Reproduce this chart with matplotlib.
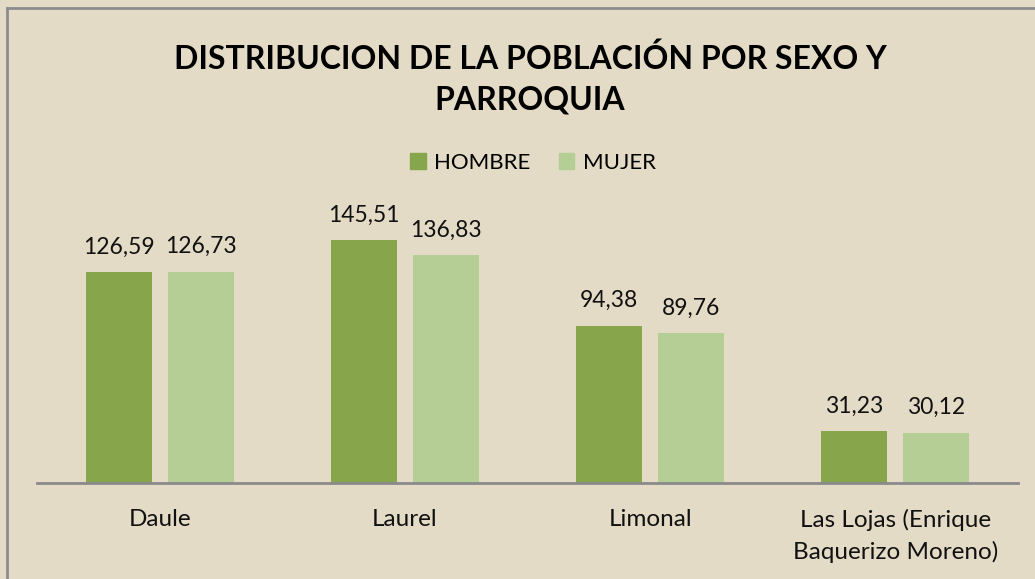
import matplotlib.pyplot as plt
from matplotlib.lines import Line2D
from matplotlib.patches import Patch
import numpy as np

# data
parroquias = ["Daule", "Laurel", "Limonal", "Las Lojas (Enrique\nBaquerizo Moreno)"]
hombre = [126.59, 145.51, 94.38, 31.23]
mujer = [126.73, 136.83, 89.76, 30.12]
series_names = ["HOMBRE", "MUJER"]
title = "DISTRIBUCION DE LA POBLACIÓN POR SEXO Y\nPARROQUIA"

# style
W, H = 1035, 579
BG = "#E4DBC6"
C_H = "#87A54B"
C_M = "#B5CE95"
FONT = ["Lato", "DejaVu Sans"]

plt.rcParams['font.family'] = FONT

fig = plt.figure(figsize=(W / 100, H / 100), dpi=100)
fig.patch.set_facecolor(BG)

# outer border (left and top visible)
fig.add_artist(Line2D([7 / W, 7 / W], [0, 1 - 8 / H], color="#8c8c8c", lw=2))
fig.add_artist(Line2D([7 / W, 1], [1 - 8 / H, 1 - 8 / H], color="#8c8c8c", lw=2))

ax = fig.add_axes([37 / W, 1 - 483 / H, 981 / W, 300 / H])
ax.set_facecolor("none")

x = np.arange(len(parroquias))
bw = 0.269
off = 0.167
b1 = ax.bar(x - off, hombre, bw, color=C_H, zorder=2)
b2 = ax.bar(x + off, mujer, bw, color=C_M, zorder=2)

for bars, vals in ((b1, hombre), (b2, mujer)):
    for b, v in zip(bars, vals):
        ax.annotate(f"{v:.2f}".replace(".", ","),
                    (b.get_x() + b.get_width() / 2, b.get_height()),
                    xytext=(0, 10.5), textcoords="offset points",
                    ha="center", va="bottom", fontsize=16.5, color="#111111")

ax.set_xlim(-0.5, 3.5)
ax.set_ylim(0, 180)
ax.set_xticks(x)
ax.set_xticklabels(parroquias, fontsize=17.5, color="#111111", linespacing=1.5)
ax.tick_params(axis="x", length=0, pad=19)
ax.set_yticks([])
for s in ("top", "right", "left"):
    ax.spines[s].set_visible(False)
ax.spines["bottom"].set_color("#8a8a8a")
ax.spines["bottom"].set_linewidth(2)

fig.text(530 / W, 1 - 79 / H, title, ha="center", va="center",
         fontsize=23, fontweight="bold", color="#000000", linespacing=1.5)

handles = [Patch(color=C_H), Patch(color=C_M)]
fig.legend(handles, series_names, loc="center", bbox_to_anchor=(533 / W, 1 - 163 / H),
           ncol=2, frameon=False, fontsize=16, handlelength=0.7, handleheight=0.7,
           handletextpad=0.4, columnspacing=1.25)

fig.savefig("out.png", dpi=100, facecolor=BG)
